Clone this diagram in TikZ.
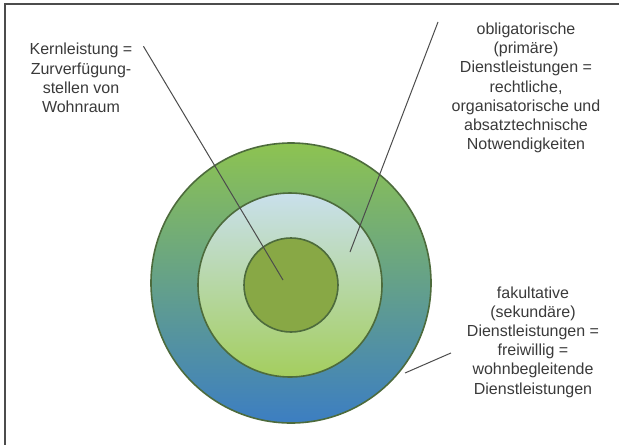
\documentclass[tikz,border=0pt]{standalone}
\usepackage{fontspec}
\setmainfont{Liberation Sans}
\definecolor{ringgreen}{HTML}{8DC351}
\definecolor{ringblue}{HTML}{3C7EC2}
\definecolor{midblue}{HTML}{C9E0EC}
\definecolor{midgreen}{HTML}{A4CE5E}
\definecolor{coregreen}{HTML}{88A845}
\definecolor{rimcol}{HTML}{4D6B3C}
\definecolor{labeltext}{HTML}{3A3A3A}
\tikzset{
  ring/.style={circle,draw=rimcol,line width=0.8pt,inner sep=0pt},
  label text/.style={align=center,text=labeltext,font=\fontsize{8}{9.6}\selectfont},
  pointer/.style={draw=gray!60!black,line width=0.5pt}
}
\begin{document}
\begin{tikzpicture}[x=0.5pt,y=-0.5pt]
  \useasboundingbox (0,0) rectangle (619,445);
  \draw[gray!60!black,line width=0.8pt] (619,4) -- (5,4) -- (5,445);
  \node[ring,minimum size=140pt,top color=ringgreen,middle color=ringgreen!80!ringblue,bottom color=ringblue] (outer) at (291,283) {};
  \node[ring,minimum size=92pt,top color=midblue,bottom color=midgreen] (middle) at (290,285) {};
  \node[ring,minimum size=47pt,fill=coregreen] (core) at (291,285) {};
  \node[label text] (kern) at (81,78) {Kernleistung =\\Zurverfügung-\\stellen von\\Wohnraum};
  \node[label text] (oblig) at (526,88) {obligatorische\\(primäre)\\Dienstleistungen =\\rechtliche,\\organisatorische und\\absatztechnische\\Notwendigkeiten};
  \node[label text] (fakult) at (533,342) {fakultative\\(sekundäre)\\Dienstleistungen =\\freiwillig =\\wohnbegleitende\\Dienstleistungen};
  \coordinate (kernend) at (283,280);
  \coordinate (obligend) at (350,252);
  \coordinate (fakultend) at (405,373);
  \draw[pointer] (kern.north east) ++(4,10) -- (kernend);
  \draw[pointer] (438,22) coordinate (obligstart) -- (obligend);
  \draw[pointer] (fakult.west) ++(-9,11) -- (fakultend);
\end{tikzpicture}
\end{document}
